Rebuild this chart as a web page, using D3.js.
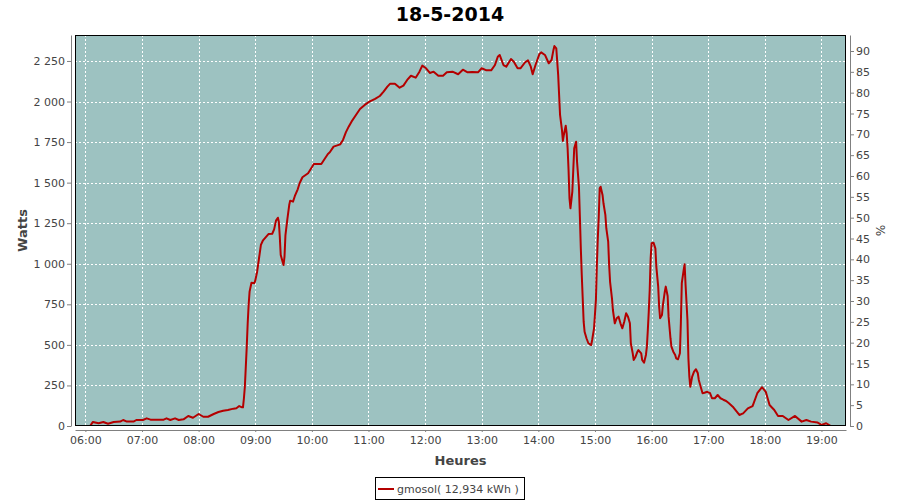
<!DOCTYPE html>
<html>
<head>
<meta charset="utf-8">
<script src="https://cdn.jsdelivr.net/npm/d3@7"></script>
<style>
  html, body { margin: 0; padding: 0; background: #ffffff; }
  svg { display: block; font-family: "DejaVu Sans", sans-serif; }
</style>
</head>
<body>
<svg id="chart" width="900" height="500"></svg>
<script>
// ---------- DATA ----------
const title = "18-5-2014";
const seriesName = "gmosol( 12,934 kWh )";
const xAxisTitle = "Heures";
const yAxisTitle = "Watts";
const y2AxisTitle = "%";

const times = [
  "06:05","06:08","06:14","06:19","06:24","06:30","06:37","06:40","06:44","06:51",
  "06:54","07:01","07:05","07:09","07:23","07:26","07:30","07:35","07:39","07:44",
  "07:49","07:54","08:00","08:05","08:10","08:16","08:21","08:26","08:31","08:37",
  "08:40","08:43","08:46","08:47","08:48","08:49","08:50","08:51","08:52","08:53",
  "08:54","08:56","08:59","09:00","09:02","09:04","09:06","09:08","09:11","09:14",
  "09:18","09:20","09:22","09:24","09:25","09:26","09:27","09:29","09:30","09:31",
  "09:32","09:34","09:36","09:37","09:40","09:42","09:45","09:47","09:50","09:56",
  "10:00","10:02","10:10","10:14","10:17","10:19","10:23","10:30","10:33","10:36",
  "10:39","10:42","10:46","10:51","10:56","11:01","11:07","11:12","11:16","11:20",
  "11:23","11:28","11:33","11:37","11:41","11:45","11:50","11:54","11:57","12:01",
  "12:05","12:09","12:14","12:19","12:23","12:29","12:35","12:40","12:45","12:50",
  "12:56","13:00","13:05","13:10","13:14","13:17","13:19","13:23","13:26","13:31",
  "13:34","13:38","13:41","13:46","13:49","13:52","13:54","13:57","14:01","14:03",
  "14:07","14:11","14:14","14:16","14:17","14:19","14:21","14:22","14:23","14:25",
  "14:26","14:27","14:29","14:30","14:31","14:32","14:33","14:34","14:36","14:37",
  "14:38","14:40","14:41","14:43","14:44","14:45","14:46","14:47","14:48","14:49",
  "14:51","14:53","14:56","14:57","14:59","15:01","15:02","15:03","15:04","15:05",
  "15:06","15:08","15:09","15:11","15:12","15:14","15:15","15:16","15:18","15:19",
  "15:21","15:23","15:25","15:27","15:29","15:31","15:33","15:35","15:37","15:38",
  "15:40","15:41","15:43","15:45","15:46","15:49","15:50","15:52","15:54","15:55",
  "15:56","15:57","15:58","15:59","16:00","16:02","16:04","16:05","16:07","16:08",
  "16:09","16:11","16:12","16:14","16:15","16:17","16:18","16:20","16:21","16:23",
  "16:25","16:26","16:28","16:30","16:31","16:32","16:34","16:35","16:36","16:38",
  "16:39","16:40","16:41","16:43","16:45","16:47","16:49","16:50","16:52","16:54",
  "16:56","16:59","17:02","17:04","17:07","17:10","17:13","17:16","17:19","17:22",
  "17:26","17:33","17:37","17:42","17:47","17:52","17:57","18:01","18:05","18:10",
  "18:14","18:19","18:25","18:32","18:39","18:44","18:49","18:56","19:00","19:05",
  "19:10"
];

const watts = [
  0,25,17,25,14,25,27,37,27,27,
  37,37,47,39,39,47,37,47,37,41,
  62,51,74,57,57,74,86,94,99,107,
  109,123,115,115,171,242,366,489,633,746,
  828,883,880,896,951,1034,1116,1142,1163,1183,
  1185,1212,1266,1284,1259,1167,1054,1013,992,1044,
  1177,1274,1362,1389,1383,1418,1459,1496,1533,1558,
  1595,1615,1615,1650,1677,1687,1722,1736,1763,1810,
  1845,1876,1911,1954,1979,1999,2016,2034,2061,2092,
  2110,2110,2085,2098,2133,2159,2147,2184,2221,2205,
  2176,2184,2159,2159,2180,2184,2168,2196,2180,2182,
  2180,2205,2192,2192,2225,2276,2287,2225,2215,2262,
  2245,2205,2205,2242,2254,2215,2168,2225,2291,2303,
  2287,2236,2256,2318,2342,2328,2164,2040,1917,1825,
  1757,1794,1851,1804,1712,1578,1403,1342,1444,1578,
  1712,1752,1629,1475,1290,1095,931,787,643,581,
  541,510,499,530,602,777,992,1157,1290,1465,
  1475,1424,1373,1301,1219,1136,992,889,787,715,
  633,664,674,633,602,643,695,674,633,510,
  448,407,427,458,468,448,407,390,438,489,
  592,705,838,1034,1126,1130,1095,982,859,735,
  664,684,746,828,859,801,674,541,489,458,
  438,417,411,448,633,880,962,997,869,653,
  417,304,242,304,335,350,325,284,242,202,
  205,211,202,171,171,191,171,162,154,140,
  119,68,78,109,123,202,239,211,129,99,
  62,62,37,62,27,37,27,21,7,17,
  0
];

const xTickLabels = ["06:00","07:00","08:00","09:00","10:00","11:00","12:00",
                     "13:00","14:00","15:00","16:00","17:00","18:00","19:00"];
const yTicks = [0,250,500,750,1000,1250,1500,1750,2000,2250];
const y2Ticks = [0,5,10,15,20,25,30,35,40,45,50,55,60,65,70,75,80,85,90];

const xRange = ["05:49","19:26"];
const yMax = 2410;
const y2Max = 93.84;

// ---------- LAYOUT ----------
const plot = { left: 75, right: 846, top: 35, bottom: 426 };
const axisGap = 4;

const parse = d3.timeParse("%H:%M");
const fmt = d3.timeFormat("%H:%M");
const loc = d3.formatLocale({ decimal: ",", thousands: "\u00a0", grouping: [3], currency: ["", ""] });
const yFmt = loc.format(",d");

const data = times.map((t, i) => ({ t: parse(t), v: watts[i] }));

const x = d3.scaleTime().domain(xRange.map(parse)).range([plot.left, plot.right]);
const y = d3.scaleLinear().domain([0, yMax]).range([plot.bottom, plot.top]);
const y2 = d3.scaleLinear().domain([0, y2Max]).range([plot.bottom, plot.top]);
const xTicks = xTickLabels.map(parse);

const svg = d3.select("#chart");
svg.append("rect").attr("width", 900).attr("height", 500).attr("fill", "#ffffff");

// Title
svg.append("text")
  .attr("x", 450).attr("y", 21)
  .attr("text-anchor", "middle")
  .attr("font-size", 19).attr("font-weight", "bold")
  .attr("fill", "#000")
  .text(title);

// Plot background
svg.append("rect")
  .attr("x", plot.left).attr("y", plot.top)
  .attr("width", plot.right - plot.left).attr("height", plot.bottom - plot.top)
  .attr("fill", "#9dc2c1");

// Gridlines
const grid = svg.append("g").attr("stroke", "#ffffff").attr("stroke-width", 1)
  .attr("stroke-dasharray", "2,2").attr("shape-rendering", "crispEdges");
grid.selectAll("line.h").data(yTicks.filter(d => d > 0)).join("line")
  .attr("x1", plot.left).attr("x2", plot.right)
  .attr("y1", d => Math.round(y(d)) + 0.5).attr("y2", d => Math.round(y(d)) + 0.5);
grid.selectAll("line.v").data(xTicks).join("line")
  .attr("y1", plot.top).attr("y2", plot.bottom)
  .attr("x1", d => Math.round(x(d)) + 0.5).attr("x2", d => Math.round(x(d)) + 0.5);

// Series line (clipped to plot)
svg.append("clipPath").attr("id", "clip").append("rect")
  .attr("x", plot.left).attr("y", plot.top)
  .attr("width", plot.right - plot.left).attr("height", plot.bottom - plot.top);
svg.append("path")
  .datum(data)
  .attr("clip-path", "url(#clip)")
  .attr("fill", "none")
  .attr("stroke", "#b40000")
  .attr("stroke-width", 2)
  .attr("stroke-linejoin", "round")
  .attr("d", d3.line().x(d => x(d.t)).y(d => y(d.v)));

// Plot outline
svg.append("rect")
  .attr("x", plot.left + 0.5).attr("y", plot.top + 0.5)
  .attr("width", plot.right - plot.left - 1).attr("height", plot.bottom - plot.top - 1)
  .attr("fill", "none").attr("stroke", "#000").attr("stroke-width", 1);

// Axes
function styleAxis(g) {
  g.selectAll(".domain").attr("stroke", "#808080");
  g.selectAll(".tick line").attr("stroke", "#808080");
  g.selectAll(".tick text").attr("fill", "#444444")
    .attr("font-size", 11).attr("font-family", "DejaVu Sans, sans-serif");
}

const gx = svg.append("g")
  .attr("transform", `translate(0,${plot.bottom + axisGap})`)
  .call(d3.axisBottom(x).tickValues(xTicks).tickFormat(fmt).tickSizeInner(2).tickSizeOuter(0).tickPadding(4));
styleAxis(gx);

const gy = svg.append("g")
  .attr("transform", `translate(${plot.left - axisGap},0)`)
  .call(d3.axisLeft(y).tickValues(yTicks).tickFormat(yFmt).tickSizeInner(4).tickSizeOuter(0).tickPadding(2));
styleAxis(gy);

const gy2 = svg.append("g")
  .attr("transform", `translate(${plot.right + axisGap},0)`)
  .call(d3.axisRight(y2).tickValues(y2Ticks).tickFormat(d3.format("d")).tickSizeInner(4).tickSizeOuter(0).tickPadding(2));
styleAxis(gy2);

// Axis titles
svg.append("text")
  .attr("x", (plot.left + plot.right) / 2).attr("y", 465)
  .attr("text-anchor", "middle")
  .attr("font-size", 13).attr("font-weight", "bold").attr("fill", "#444444")
  .text(xAxisTitle);

svg.append("text")
  .attr("transform", `translate(27,${(plot.top + plot.bottom) / 2}) rotate(-90)`)
  .attr("text-anchor", "middle")
  .attr("font-size", 13).attr("font-weight", "bold").attr("fill", "#444444")
  .text(yAxisTitle);

svg.append("text")
  .attr("transform", `translate(876,${(plot.top + plot.bottom) / 2}) rotate(90)`)
  .attr("text-anchor", "middle")
  .attr("font-size", 12).attr("fill", "#444444")
  .text(y2AxisTitle);

// Legend
const lg = svg.append("g");
lg.append("rect")
  .attr("x", 375.5).attr("y", 477.5).attr("width", 149).attr("height", 22)
  .attr("fill", "#ffffff").attr("stroke", "#000").attr("stroke-width", 1);
lg.append("line")
  .attr("x1", 378).attr("x2", 394).attr("y1", 489).attr("y2", 489)
  .attr("stroke", "#b40000").attr("stroke-width", 2);
lg.append("text")
  .attr("x", 397).attr("y", 493)
  .attr("font-size", 11).attr("fill", "#444444")
  .text(seriesName);
</script>
</body>
</html>
